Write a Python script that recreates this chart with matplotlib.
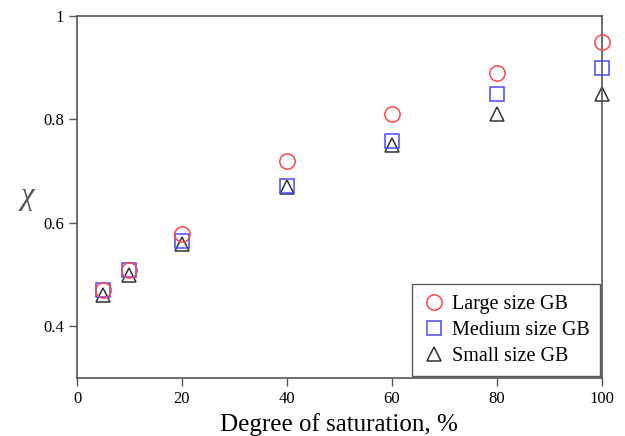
import numpy as np
import matplotlib
matplotlib.use("Agg")
import matplotlib.pyplot as plt

plt.rcParams['font.family'] = ['Liberation Serif', 'DejaVu Serif']

# data
saturation = [5, 10, 20, 40, 60, 80, 100]
chi_large = [0.47, 0.508, 0.579, 0.72, 0.81, 0.89, 0.95]
chi_medium = [0.47, 0.508, 0.565, 0.672, 0.759, 0.85, 0.90]
chi_small = [0.46, 0.50, 0.56, 0.67, 0.75, 0.81, 0.85]

fig = plt.figure(figsize=(6.25, 4.36), dpi=100)
ax = fig.add_axes([0.1232, 0.133, 0.8395, 0.8303])

ax.plot(saturation, chi_large, 'o', ms=11, mfc='none', mec='#ff4545', mew=1.1,
        label='Large size GB', clip_on=False, zorder=4)
ax.plot(saturation, chi_medium, 's', ms=10.5, mfc='none', mec='#4848ff', mew=1.1,
        label='Medium size GB', clip_on=False, zorder=3)
ax.plot(saturation, chi_small, '^', ms=10, mfc='none', mec='#333333', mew=1.1,
        label='Small size GB', clip_on=False, zorder=2)

ax.set_xlim(0, 100)
ax.set_ylim(0.3, 1.0)
ax.set_xticks([0, 20, 40, 60, 80, 100])
ax.set_yticks([0.4, 0.6, 0.8, 1.0])
ax.set_yticklabels(['0.4', '0.6', '0.8', '1'])
ax.tick_params(direction='out', length=6, width=1, labelsize=12, color='#555555')

for s in ax.spines.values():
    s.set_color('#555555')
    s.set_linewidth(1.2)

ax.set_xlabel('Degree of saturation, %', fontsize=18, labelpad=4)
ax.set_ylabel('χ', fontsize=22, rotation=0, style='italic', color='#555555')
ax.yaxis.set_label_coords(-0.095, 0.46)

leg = ax.legend(loc='lower right', fontsize=14.5, frameon=True, fancybox=False,
                borderaxespad=0.1, handletextpad=0.3, handlelength=1.2,
                borderpad=0.5, labelspacing=0.35)
leg.get_frame().set_edgecolor('#333333')
leg.get_frame().set_linewidth(1.0)

plt.savefig('out.png', dpi=100)
